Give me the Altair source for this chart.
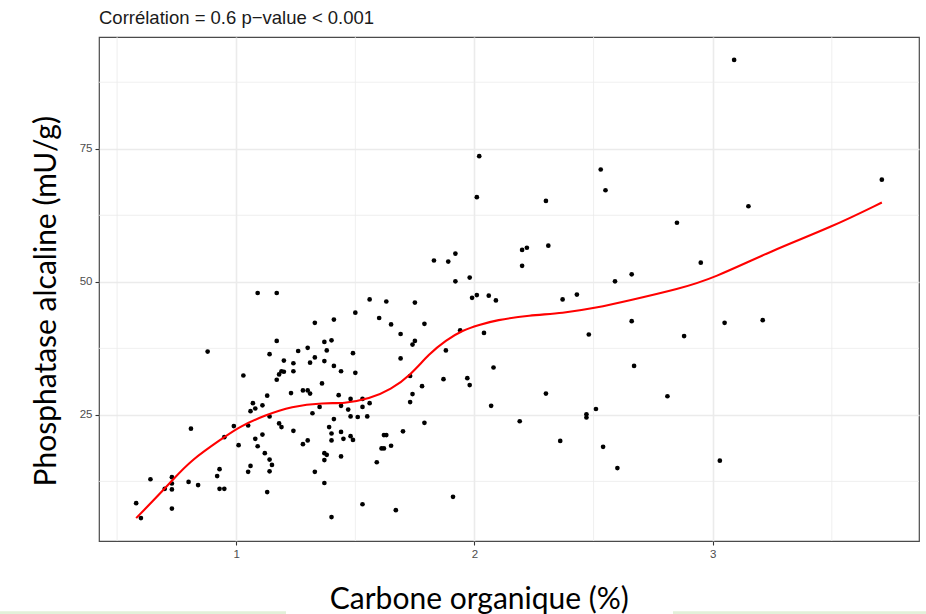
import altair as alt
import pandas as pd

# Carbone organique (%) and Phosphatase alcaline (mU/g)
carbone = [
    1.09, 1.17, 1.56, 1.63, 1.50, 1.60, 1.65, 1.33, 1.41, 1.17,
    1.37, 1.40, 1.26, 1.30, 1.38, 1.49, 0.88, 1.14, 1.20, 1.24,
    1.31, 1.33, 1.37, 1.41, 1.44, 1.50, 1.19, 1.20, 1.18, 1.24,
    1.03, 1.17, 1.36, 1.28, 1.30, 1.31, 1.23, 1.13, 1.43, 1.48,
    1.53, 1.07, 1.11, 1.08, 1.06, 1.35, 1.44, 1.47, 1.53, 1.56,
    1.32, 1.14, 1.48, 1.51, 1.55, 1.41, 0.99, 1.05, 1.18, 1.19,
    1.39, 0.81, 1.24, 1.40, 1.44, 0.95, 1.11, 1.08, 1.40, 1.45,
    1.48, 1.49, 1.62, 1.63, 1.01, 1.09, 1.28, 1.30, 1.61, 1.62,
    1.65, 1.12, 1.14, 1.15, 1.37, 1.38, 1.37, 1.44, 1.59, 0.93,
    0.92, 1.06, 1.05, 1.14, 1.33, 0.64, 0.73, 0.73, 0.70, 0.73,
    0.80, 0.84, 0.93, 0.95, 1.13, 1.37, 0.58, 0.73, 1.53, 0.60,
    1.40,
    1.92, 1.98, 1.75, 1.99, 2.01, 2.06, 2.09, 2.37, 2.43, 2.59,
    2.66, 1.69, 1.79, 1.74, 1.75, 1.69, 1.94, 2.04, 1.88, 2.66,
    2.48, 1.73, 1.78, 1.74, 1.73, 1.87, 1.97, 1.98, 2.08, 2.07,
    2.30, 2.67, 2.81, 1.79, 1.70, 2.19, 2.47, 2.47, 2.51, 2.36,
    2.54, 2.60, 1.91, 1.67,
    2.02, 2.01, 2.53, 2.55, 2.30, 2.85, 1.83, 1.89, 1.92, 2.20,
    2.22, 2.20, 2.31,
    3.09, 2.95, 3.15, 3.71,
    2.88, 3.05, 3.21, 3.03,
]
phosphatase = [
    47.9, 47.9, 46.7, 46.3, 44.2, 43.2, 42.0, 42.3, 42.9, 38.9,
    38.7, 39.0, 37.0, 37.6, 37.1, 36.6, 36.9, 36.4, 35.2, 34.7,
    34.8, 35.8, 35.1, 34.2, 33.2, 32.9, 33.2, 33.1, 32.6, 33.2,
    32.4, 31.6, 30.9, 29.6, 29.6, 29.0, 29.1, 28.6, 28.7, 28.0,
    28.0, 27.2, 26.8, 26.2, 25.7, 26.5, 26.7, 26.0, 26.5, 27.2,
    25.3, 24.7, 24.7, 24.6, 24.7, 24.2, 22.9, 23.0, 23.4, 22.7,
    22.7, 22.4, 22.0, 21.5, 21.8, 20.8, 21.3, 20.5, 20.2, 20.5,
    21.0, 20.3, 21.2, 21.2, 19.3, 19.1, 19.5, 20.2, 18.7, 18.7,
    19.2, 17.8, 16.6, 15.6, 17.8, 17.5, 16.5, 17.2, 16.1, 14.8,
    13.5, 15.4, 14.3, 14.4, 14.3, 12.9, 13.3, 12.1, 11.1, 11.0,
    12.4, 11.8, 11.1, 11.1, 10.5, 12.2, 8.4, 7.4, 8.2, 5.6,
    5.8,
    50.1, 50.8, 46.1, 47.0, 47.5, 47.4, 46.5, 46.7, 47.6, 50.1,
    51.4, 40.2, 42.1, 38.2, 38.9, 35.6, 40.9, 40.4, 37.1, 42.6,
    40.1, 32.3, 30.4, 28.9, 27.4, 31.7, 31.9, 30.6, 33.9, 26.7,
    29.0, 34.2, 28.5, 23.5, 21.9, 23.8, 25.1, 24.5, 26.1, 20.1,
    19.0, 15.0, 9.6, 7.1,
    73.6, 65.9, 71.1, 67.2, 65.2, 61.1, 54.0, 53.8, 55.3, 56.0,
    56.4, 53.0, 56.8,
    91.7, 53.6, 64.2, 69.2,
    39.8, 42.3, 42.8, 16.4,
]

# smoothed (loess) curve
fit_x = [0.58, 0.65, 0.73, 0.81, 0.95, 1.01, 1.12, 1.23, 1.37, 1.45,
         1.56, 1.65, 1.73, 1.81, 1.88, 1.95, 2.02, 2.09, 2.23, 2.37,
         2.51, 2.65, 2.86, 3.00, 3.25, 3.50, 3.71]
fit_y = [5.6, 8.8, 12.6, 16.5, 20.8, 22.7, 24.9, 26.6, 27.3, 27.1,
         28.0, 29.8, 32.4, 36.5, 39.0, 40.9, 41.9, 42.8, 43.7, 44.1,
         45.1, 46.5, 48.7, 50.6, 55.9, 60.3, 64.9]

x_ticks = [1, 2, 3]
y_ticks = [25, 50, 75]
x_minor = [0.5, 1.5, 2.5, 3.5]
y_minor = [12.5, 37.5, 62.5, 87.5]

title_text = "Corrélation = 0.6 p\u2212value < 0.001"
x_title = "Carbone organique (%)"
y_title = "Phosphatase alcaline (mU/g)"

pts = pd.DataFrame({"carbone": carbone, "phosphatase": phosphatase})
fit = pd.DataFrame({"carbone": fit_x, "phosphatase": fit_y})
xm = pd.DataFrame({"carbone": x_minor})
ym = pd.DataFrame({"phosphatase": y_minor})

W, H = 820, 504

xs = alt.Scale(domain=[0.424, 3.866], nice=False, zero=False)
ys = alt.Scale(domain=[1.3, 96.0], nice=False, zero=False)

x_axis = alt.Axis(
    values=x_ticks, title=x_title, grid=True, gridColor="#ebebeb", gridWidth=1.6,
    domain=False, tickColor="#333333", tickSize=4, tickWidth=1.1,
    labelColor="#4d4d4d", labelFontSize=11.5, labelFont="Liberation Sans", labelPadding=3,
    titleFont="Lato", titleFontSize=30, titleFontWeight="normal", titleColor="#000000",
    titleX=379.8, titleY=67, titleBaseline="alphabetic", titleAlign="center",
)
y_axis = alt.Axis(
    values=y_ticks, title=y_title, grid=True, gridColor="#ebebeb", gridWidth=1.6,
    domain=False, tickColor="#333333", tickSize=4, tickWidth=1.1,
    labelColor="#4d4d4d", labelFontSize=11.5, labelFont="Liberation Sans", labelPadding=3,
    titleFont="Lato", titleFontSize=30, titleFontWeight="normal", titleColor="#000000",
    titleX=-44, titleY=263.8, titleBaseline="alphabetic", titleAlign="center", titleAngle=270,
)

minor_x = alt.Chart(xm).mark_rule(color="#ebebeb", strokeWidth=0.8).encode(
    x=alt.X("carbone:Q", scale=xs, axis=x_axis)
)
minor_y = alt.Chart(ym).mark_rule(color="#ebebeb", strokeWidth=0.8).encode(
    y=alt.Y("phosphatase:Q", scale=ys, axis=y_axis)
)
points = alt.Chart(pts).mark_circle(size=22, color="#000000", opacity=1).encode(
    x=alt.X("carbone:Q", scale=xs, axis=x_axis),
    y=alt.Y("phosphatase:Q", scale=ys, axis=y_axis),
)
curve = alt.Chart(fit).mark_line(color="#ff0000", strokeWidth=2.1, interpolate="basis").encode(
    x=alt.X("carbone:Q", scale=xs, axis=x_axis),
    y=alt.Y("phosphatase:Q", scale=ys, axis=y_axis),
)

deco = pd.DataFrame({"k": [0]})
strip_left = alt.Chart(deco).mark_rect(color="#e2f0d9").encode(
    x=alt.value(-99), x2=alt.value(187), y=alt.value(574.3), y2=alt.value(578)
)
strip_right = alt.Chart(deco).mark_rect(color="#e2f0d9").encode(
    x=alt.value(574), x2=alt.value(827), y=alt.value(574.3), y2=alt.value(578)
)

chart = alt.layer(minor_x, minor_y, points, curve, strip_left, strip_right).properties(
    width=W, height=H,
    background="#ffffff",
    title=alt.TitleParams(
        title_text, anchor="start", frame="group", fontSize=18.5, font="Liberation Sans",
        fontWeight="normal", color="#1a1a1a", offset=9, dx=0,
    ),
    autosize=alt.AutoSizeParams(type="none"),
    padding={"left": 99, "top": 37, "right": 7, "bottom": 73},
).configure_view(
    stroke="#4a4a4a", strokeWidth=1.2
)

chart.save("out.html", embed_options={"renderer": "svg", "actions": False})
